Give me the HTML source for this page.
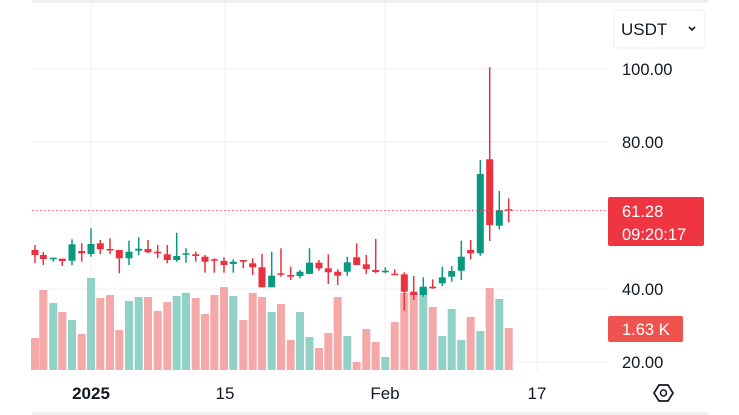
<!DOCTYPE html>
<html><head><meta charset="utf-8"><style>
html,body{margin:0;padding:0;background:#fff;width:739px;height:415px;overflow:hidden}
svg{display:block}
text{font-family:"Liberation Sans",sans-serif}
</style></head><body>
<svg width="739" height="415" viewBox="0 0 739 415">
<rect x="0" y="0" width="739" height="415" fill="#fff"/>
<rect x="32" y="0" width="676" height="3" fill="#eeeeee"/>
<rect x="32" y="412" width="676" height="3" fill="#f0f0f0"/>
<g stroke="#f0f0f0" stroke-width="1">
<line x1="32" y1="69" x2="608" y2="69"/><line x1="32" y1="142" x2="608" y2="142"/>
<line x1="32" y1="215" x2="608" y2="215"/><line x1="32" y1="289" x2="608" y2="289"/>
<line x1="32" y1="362" x2="608" y2="362"/>
<line x1="91" y1="0" x2="91" y2="372"/><line x1="225" y1="0" x2="225" y2="372"/>
<line x1="385" y1="0" x2="385" y2="372"/><line x1="537" y1="0" x2="537" y2="372"/>
</g>
<g id="vol"></g>
<g id="cdl"></g>
<line x1="32" y1="210.5" x2="608" y2="210.5" stroke="#e06070" stroke-width="1" stroke-dasharray="1.5,2.5"/>
<rect x="614" y="10" width="91" height="38" rx="4" fill="#fff" stroke="#eeeeee"/>
<text x="621" y="35" font-size="17" fill="#131722">USDT</text>
<path d="M689 27 l3 3 l3 -3" fill="none" stroke="#131722" stroke-width="1.6"/>
<g font-size="16.5" fill="#131722">
<text x="622" y="75">100.00</text><text x="622" y="148">80.00</text>
<text x="622" y="295">40.00</text><text x="622" y="368">20.00</text>
</g>
<rect x="608" y="197" width="96" height="49" rx="2" fill="#ef3442"/>
<text x="622" y="217" font-size="16.5" fill="#fff">61.28</text>
<text x="622" y="240" font-size="16.5" fill="#fff">09:20:17</text>
<rect x="608" y="316" width="75" height="26" rx="2" fill="#ef5350"/>
<text x="622" y="335" font-size="16.5" fill="#fff">1.63 K</text>
<g font-size="17" fill="#131722">
<text x="91" y="399" text-anchor="middle" font-weight="bold">2025</text>
<text x="225" y="399" text-anchor="middle">15</text>
<text x="385" y="399" text-anchor="middle">Feb</text>
<text x="537" y="399" text-anchor="middle">17</text>
</g>
<polygon points="654,393 659,385 668,385 673,393 668,401 659,401" fill="none" stroke="#131722" stroke-width="1.7"/>
<circle cx="663.5" cy="393" r="3" fill="none" stroke="#131722" stroke-width="1.5"/>
</svg>
<script>
var C=[[35,'r',250,255,245,263],[43.3,'r',255,259,252,265],[53.3,'g',257.7,259.3,257.7,261.7],[62.3,'r',258.7,261,258.7,266],[72,'g',244.3,260.7,239.3,265],[81.7,'r',251,253.3,243.3,261.7],[91,'g',244,254,228.3,256.7],[100.3,'r',243.3,249.3,240,254],[110,'r',249,250,238.3,254],[119.3,'r',250,258.3,250,273.3],[129,'g',251.7,258.3,240.7,265],[138.7,'g',248.7,250.7,237.3,255],[148,'r',249,252.3,240,253.3],[157.7,'r',251.7,253.3,245,258.3],[167.3,'r',254.3,260,245,263.3],[176.7,'g',256,260,232.7,261.7],[186,'g',253.3,254.3,248.3,262.7],[195.7,'r',254.3,256,251.7,261.7],[205,'r',256.7,261.7,255,272.7],[214.3,'r',259.3,260.7,258.3,272.7],[224,'r',261,265,257.3,272.7],[233.3,'g',261.7,264,259.3,272.7],[243.3,'r',260,261.7,260,268.3],[252.7,'r',263.3,267.3,258.3,275],[262,'r',267.3,287.3,254,287.3],[271.7,'g',275.7,287.3,251.7,287.3],[281,'r',273.3,274.3,248.3,276.7],[290.7,'r',275,276.7,266.7,280],[300,'g',271.7,276,270,278.3],[309.5,'g',262.7,274,248.3,274],[319,'r',262.7,268.3,260,270.7],[328.3,'r',268.3,272.3,254.3,284],[337.7,'r',271.7,275.7,269.3,285],[347.3,'g',262.3,271.7,256.7,275.7],[356.7,'r',257.3,265,243.3,265],[366.3,'r',264.3,269,255,274],[375.7,'r',270,272,239,273.3],[385.3,'g',270.7,272,267.3,273.3],[394.7,'r',273.7,274.7,269.3,275],[404.3,'r',274.3,291.7,272.3,310.7],[413.7,'r',291.7,295,276,300],[423.3,'g',286.7,295,277.3,296.7],[432.7,'r',286.7,288.3,279.3,288.7],[442.3,'g',277.3,283.3,266.7,286],[451.7,'g',271,276.7,266,281.7],[461.3,'g',256.7,270.7,240.7,280],[470.7,'r',250,253.3,240,259.3],[480.3,'g',174,253.3,160,255.7],[489.7,'r',159.3,225,67.3,241],[499.3,'g',210,225.7,191,229.3],[508.7,'r',209.3,210.7,198.3,222.3]];
var V="338p290p303t312p320t334p278t298p295p330p301t297t297p311p302p296t293t298p314p295p287p296t320p293p297p312t304p340p312t337t348p333p297p336t362p329p342p357t322p293p293p287t307p336t309t340t317p331t288p299t328p".match(/\d+[pt]/g);
var ns="http://www.w3.org/2000/svg",vg=document.getElementById('vol'),cg=document.getElementById('cdl');
function el(g,t,a){var e=document.createElementNS(ns,t);for(var k in a)e.setAttribute(k,a[k]);g.appendChild(e);}
C.forEach(function(c,i){var v=V[i],top=parseInt(v),col=v.slice(-1)=='p'?'#f5a8a8':'#92d1c8';
el(vg,'rect',{x:c[0]-4,y:top,width:8,height:370-top,fill:col});
var cc=c[1]=='r'?'#e8323f':'#089981';
el(cg,'rect',{x:c[0]-0.75,y:c[4],width:1.5,height:c[5]-c[4],fill:cc});
el(cg,'rect',{x:c[0]-3.5,y:c[2],width:7,height:Math.max(1.5,c[3]-c[2]),fill:cc});});
</script>
</body></html>
